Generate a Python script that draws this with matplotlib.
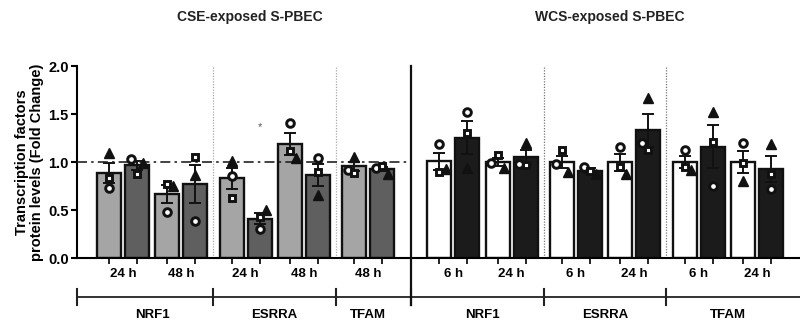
import numpy as np
import matplotlib
matplotlib.use('Agg')
import matplotlib.pyplot as plt
from matplotlib.ticker import FormatStrFormatter

plt.rcParams['font.family'] = ['Liberation Sans', 'DejaVu Sans']
plt.rcParams['font.weight'] = 'bold'

# 数据: 每个柱子三个点 (圆, 方, 三角)
panel_titles = ['CSE-exposed S-PBEC', 'WCS-exposed S-PBEC']
cse_genes = ['NRF1', 'ESRRA', 'TFAM']
cse_times = [['24 h', '48 h'], ['24 h', '48 h'], ['48 h']]
cse_points = [
    [[0.73, 0.83, 1.09], [1.03, 0.875, 0.99]],   # NRF1 24 h
    [[0.48, 0.77, 0.75], [0.385, 1.05, 0.865]],  # NRF1 48 h
    [[0.855, 0.625, 1.01], [0.30, 0.43, 0.50]],  # ESRRA 24 h
    [[1.41, 1.11, 1.04], [1.04, 0.895, 0.655]],  # ESRRA 48 h
    [[0.92, 0.89, 1.05], [0.94, 0.96, 0.88]],    # TFAM 48 h
]
wcs_genes = ['NRF1', 'ESRRA', 'TFAM']
wcs_times = [['6 h', '24 h'], ['6 h', '24 h'], ['6 h', '24 h']]
wcs_points = [
    [[1.19, 0.90, 0.93], [1.52, 1.30, 0.94]],    # NRF1 6 h
    [[0.99, 1.07, 0.94], [0.98, 0.97, 1.20]],    # NRF1 24 h
    [[0.98, 1.125, 0.90], [0.95, 0.91, 0.87]],   # ESRRA 6 h
    [[1.16, 0.95, 0.875], [1.20, 1.125, 1.67]],  # ESRRA 24 h
    [[1.125, 0.95, 0.92], [0.75, 1.21, 1.52]],   # TFAM 6 h
    [[1.20, 0.99, 0.80], [0.72, 0.875, 1.19]],   # TFAM 24 h
]
star_bar = (0, 2, 1)  # 面板, 组, 柱  (ESRRA 24 h CSE)

panels = [
    dict(genes=cse_genes, times=cse_times, points=cse_points,
         colors=['#a5a5a5', '#5f5f5f']),
    dict(genes=wcs_genes, times=wcs_times, points=wcs_points,
         colors=['#ffffff', '#1b1b1b']),
]

# 布局
pair_gap, gene_gap, panel_gap = 2.08, 2.3, 3.04
bar_w = 0.86
xmin, xmax = -1.14, 24.68

markers = [dict(marker='o', mfc='white', ms=5.5, mew=2.1),
           dict(marker='s', mfc='white', ms=5.0, mew=2.1),
           dict(marker='^', mfc='#111111', ms=6.5, mew=1.0)]
offs = [-0.22, 0.0, 0.22]

fig = plt.figure(figsize=(8, 3.22), dpi=100)
ax = fig.add_axes([77 / 800, 64 / 322, 723 / 800, 192 / 322])
ax.set_xlim(xmin, xmax)
ax.set_ylim(0, 2.0)

tr = ax.get_xaxis_transform()
pos = 0.0
first = True
all_ticks = []
separators = []
gene_spans = []
panel_edges = []
last_bar = None
for pi, p in enumerate(panels):
    if not first:
        pos += panel_gap - pair_gap
        panel_edges.append((last_bar + pos) / 2)
    k = 0
    for gi, gene in enumerate(p['genes']):
        if gi > 0:
            pos += gene_gap - pair_gap
            separators.append((last_bar + pos) / 2)
        gstart = pos
        for ti, tlabel in enumerate(p['times'][gi]):
            first = False
            for bi in range(2):
                x = pos + bi
                pts = np.array(p['points'][k][bi])
                m = pts.mean()
                sem = pts.std(ddof=1) / np.sqrt(len(pts))
                ax.bar(x, m, width=bar_w, color=p['colors'][bi],
                       edgecolor='#111111', linewidth=1.7, zorder=2)
                ax.errorbar(x, m, yerr=sem, color='#111111', capsize=4.5,
                            elinewidth=1.4, capthick=1.4, zorder=3)
                for j, v in enumerate(pts):
                    close = any(abs(v - w) < 0.08 for jj, w in enumerate(pts) if jj != j)
                    dx = offs[j] if close else 0.0
                    ax.plot(x + dx, v, linestyle='none', mec='#111111',
                            zorder=4, clip_on=False, **markers[j])
                if (pi, k, bi) == star_bar:
                    ax.text(x, m + 0.95, '*', ha='center', va='center',
                            fontsize=8, fontweight='normal', color='#555555')
                all_ticks.append(x)
            ax.text(pos + 0.5, -0.083, tlabel, transform=tr, ha='center',
                    va='center', fontsize=9.5)
            last_bar = pos + 1
            gend = pos + 1
            pos += pair_gap
            k += 1
        gene_spans.append((gene, (gstart + gend) / 2))

# 分隔线
for s in separators:
    col = '#aaaaaa' if s < panel_edges[0] else '#777777'
    ax.axvline(s, color=col, linestyle=(0, (1, 1.2)), linewidth=0.9, zorder=1)
ax.plot([panel_edges[0]] * 2, [1.0, -0.245], transform=tr, color='#111111',
        linewidth=1.6, clip_on=False, zorder=5)

# 1.0 参考线
ax.plot([xmin, panel_edges[0]], [1.0, 1.0], color='#222222', linewidth=1.2,
        linestyle=(0, (6, 2.5, 1.5, 2.5)), zorder=3)

# 下方括号
bounds = [xmin] + sorted(separators + panel_edges) + [xmax]
ax.plot([xmin, xmax], [-0.203, -0.203], transform=tr, color='#222222',
        linewidth=1.3, clip_on=False)
for b in bounds[:-1]:
    ax.plot([b, b], [-0.161, -0.245], transform=tr, color='#222222',
            linewidth=1.5, clip_on=False)
for gene, cx in gene_spans:
    ax.text(cx, -0.297, gene, transform=tr, ha='center', va='center',
            fontsize=9.5)

# 坐标轴
ax.spines['top'].set_visible(False)
ax.spines['right'].set_visible(False)
ax.spines['left'].set_linewidth(1.5)
ax.spines['bottom'].set_linewidth(1.5)
ax.set_xticks(all_ticks)
ax.set_xticklabels([])
ax.tick_params(axis='x', length=4, width=1.2, direction='out')
ax.set_yticks([0, 0.5, 1.0, 1.5, 2.0])
ax.yaxis.set_major_formatter(FormatStrFormatter('%.1f'))
ax.tick_params(axis='y', length=4, width=1.5, labelsize=10.5, pad=2)
for lab in ax.get_yticklabels():
    lab.set_fontweight('bold')
ax.set_ylabel('Transcription factors\nprotein levels (Fold Change)',
              fontsize=10.5, fontweight='bold', labelpad=3, linespacing=1.1)

fig.text(250 / 800, 1 - 17 / 322, panel_titles[0], ha='center', va='center',
         fontsize=10, fontweight='bold', color='#222222')
fig.text(610 / 800, 1 - 17 / 322, panel_titles[1], ha='center', va='center',
         fontsize=10, fontweight='bold', color='#222222')

fig.savefig('out.png', dpi=100)
